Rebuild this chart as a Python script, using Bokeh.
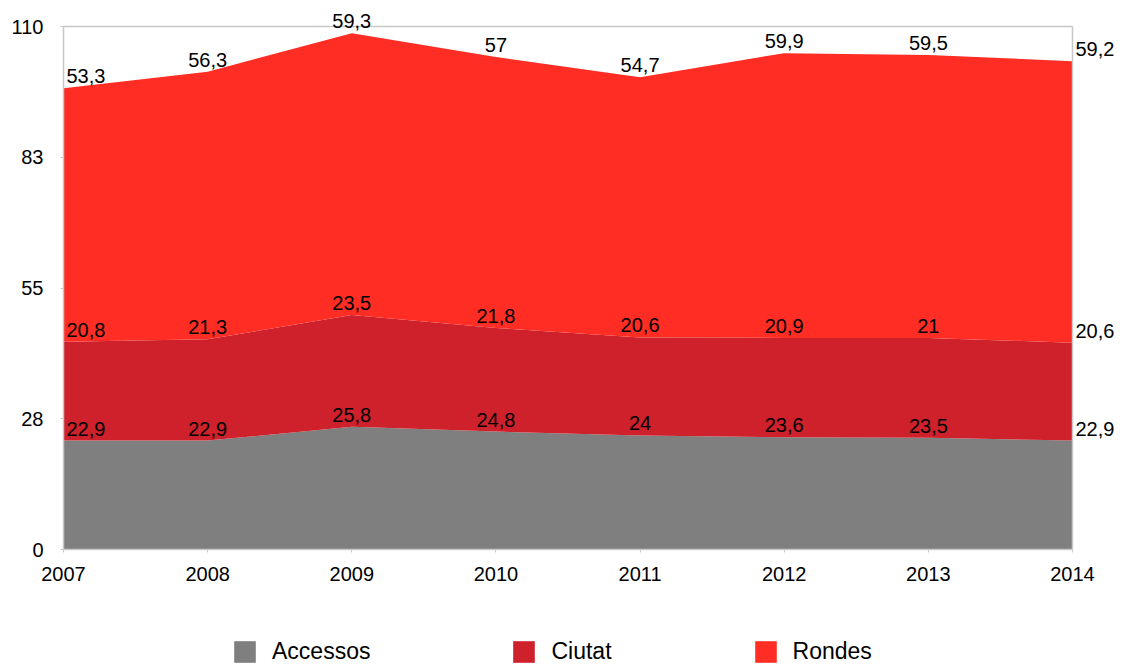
from bokeh.plotting import figure
from bokeh.layouts import column
from bokeh.models import (ColumnDataSource, Range1d, FixedTicker, CustomJSTickFormatter,
                          LabelSet, Legend, LegendItem)
from bokeh.core.properties import value
from bokeh.embed import file_html
from bokeh.resources import INLINE

years = [2007, 2008, 2009, 2010, 2011, 2012, 2013, 2014]
series_names = ["Accessos", "Ciutat", "Rondes"]
accessos = [22.9, 22.9, 25.8, 24.8, 24.0, 23.6, 23.5, 22.9]
ciutat = [20.8, 21.3, 23.5, 21.8, 20.6, 20.9, 21.0, 20.6]
rondes = [53.3, 56.3, 59.3, 57.0, 54.7, 59.9, 59.5, 59.2]
colors = ["#7f7f7f", "#ce212c", "#ff2d23"]
y_ticks = [0, 27.5, 55, 82.5, 110]

FONT = "Liberation Sans"
BORDER = "#c8c8c8"

W = 1121
H1, H2 = 620, 44          # main chart / legend strip heights
FL, FB = 63, 549          # frame left / bottom in pixels
XR, YT = 1072, 26         # pixel of last year / of top tick
xs = (XR - FL) / (years[-1] - years[0])
ys = (FB - YT) / (y_ticks[-1] - y_ticks[0])

src = ColumnDataSource(dict(x=years, Accessos=accessos, Ciutat=ciutat, Rondes=rondes))

p = figure(width=W, height=H1, output_backend="svg", toolbar_location=None,
           x_range=Range1d(years[0], years[-1] + (W - XR) / xs),
           y_range=Range1d(y_ticks[0], y_ticks[-1] + YT / ys),
           min_border_left=FL, min_border_right=0, min_border_top=0, min_border_bottom=H1 - FB)

renderers = p.varea_stack(stackers=series_names, x="x", color=colors, source=src)

# frame border (top and right) limited to the data area
p.segment(x0=[years[0], years[-1]], y0=[y_ticks[-1], y_ticks[0]],
          x1=[years[-1], years[-1]], y1=[y_ticks[-1], y_ticks[-1]],
          line_color=BORDER, line_width=1.5)

p.xgrid.visible = False
p.ygrid.visible = False
p.outline_line_color = None
p.background_fill_color = "white"
p.border_fill_color = "white"

for ax in (p.xaxis[0], p.yaxis[0]):
    ax.axis_line_color = BORDER
    ax.axis_line_width = 1.5
    ax.major_tick_line_color = BORDER
    ax.major_tick_in = 0
    ax.major_tick_out = 3
    ax.minor_tick_line_color = None
    ax.major_label_text_font = FONT
    ax.major_label_text_font_size = "20px"
    ax.major_label_text_color = "black"

p.xaxis[0].ticker = FixedTicker(ticks=years)
p.xaxis[0].bounds = (years[0], years[-1])
p.xaxis[0].major_label_standoff = 14
p.yaxis[0].ticker = FixedTicker(ticks=y_ticks)
p.yaxis[0].bounds = (y_ticks[0], y_ticks[-1])
p.yaxis[0].formatter = CustomJSTickFormatter(code="return Math.round(tick).toString();")
p.yaxis[0].major_label_standoff = 17

# value labels at the top of each layer
series_vals = [accessos, ciutat, rondes]
cum = [0.0] * len(years)
groups = {"first": dict(x=[], y=[], t=[]), "mid": dict(x=[], y=[], t=[]), "last": dict(x=[], y=[], t=[])}
for vals in series_vals:
    cum = [c + v for c, v in zip(cum, vals)]
    for i, (yr, c, v) in enumerate(zip(years, cum, vals)):
        key = "first" if i == 0 else ("last" if i == len(years) - 1 else "mid")
        groups[key]["x"].append(yr)
        groups[key]["y"].append(c)
        groups[key]["t"].append(("%g" % v).replace(".", ","))

for key, align, xoff in (("first", "left", 3), ("mid", "center", 0), ("last", "left", 3)):
    ls = LabelSet(x="x", y="y", text="t", source=ColumnDataSource(groups[key]),
                  text_align=align, text_baseline="alphabetic", x_offset=xoff, y_offset=5,
                  text_font=value(FONT), text_font_size="20px", text_color="black")
    p.add_layout(ls)

# legend strip (its frame is aligned with the main frame by the column layout)
p2 = figure(width=W, height=H2, output_backend="svg", toolbar_location=None,
            x_axis_type=None, y_axis_type=None,
            x_range=Range1d(0, 1), y_range=Range1d(0, 1),
            min_border_left=0, min_border_right=0, min_border_top=0, min_border_bottom=0)
p2.outline_line_color = None
p2.xgrid.visible = False
p2.ygrid.visible = False
leg_rs = [p2.varea(x=[0, 1], y1=[0, 0], y2=[0, 0], color=c) for c in colors]
legend = Legend(items=[LegendItem(label=n, renderers=[r]) for n, r in zip(series_names, leg_rs)],
                orientation="horizontal", location=(168, -1),
                glyph_width=27, glyph_height=27, label_standoff=14, spacing=140,
                label_text_font=FONT, label_text_font_size="23px", label_text_color="black",
                padding=0, margin=0, border_line_color=None, background_fill_alpha=0)
p2.add_layout(legend, "center")

open("out.html", "w").write(file_html(column(p, p2, spacing=0), INLINE))
